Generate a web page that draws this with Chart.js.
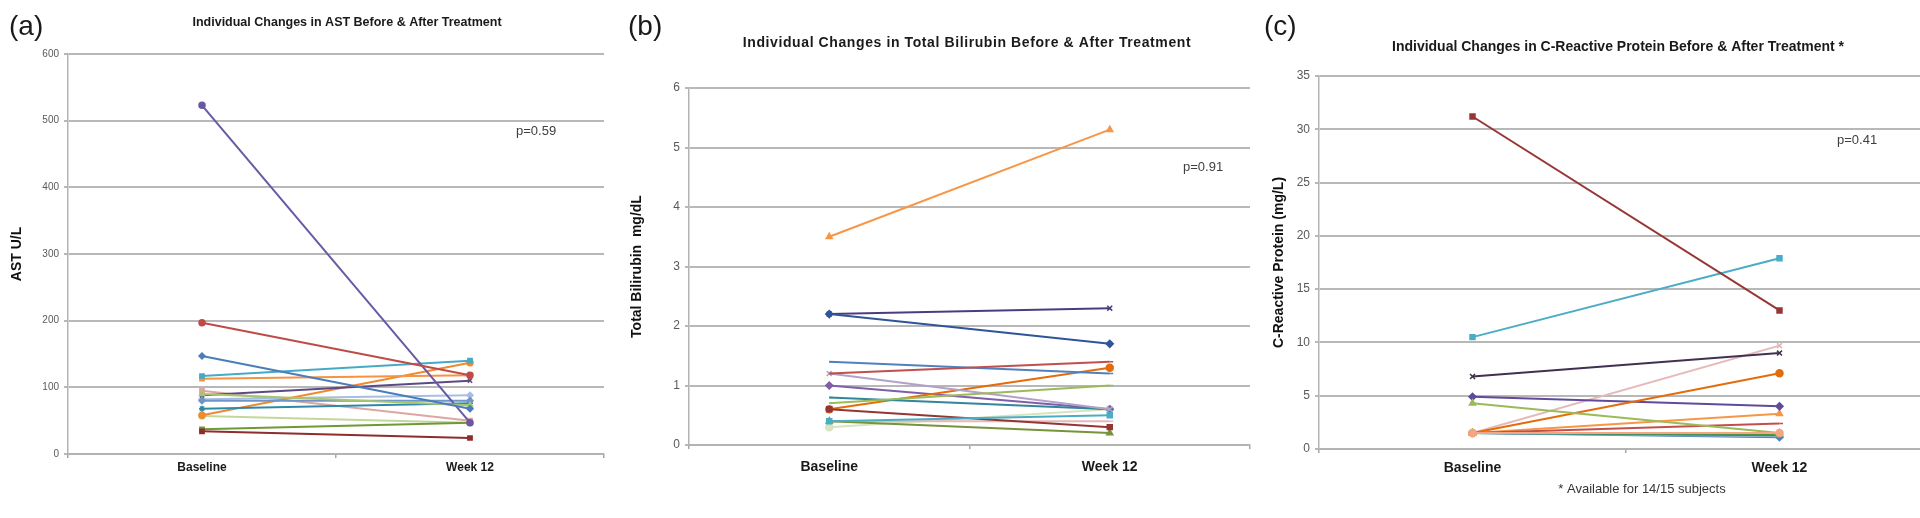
<!DOCTYPE html>
<html>
<head>
<meta charset="utf-8">
<script src="https://cdn.jsdelivr.net/npm/chart.js@4.4.1/dist/chart.umd.min.js"></script>
<style>
  html, body { margin: 0; padding: 0; background: #fff; overflow: hidden; width: 1920px; height: 518px; }
  .panel { position: absolute; top: 0; height: 518px; }
</style>
</head>
<body>
<div class="panel" style="left:0;width:615px"><canvas id="astChart"></canvas></div>
<div class="panel" style="left:615px;width:645px"><canvas id="bilChart"></canvas></div>
<div class="panel" style="left:1260px;width:680px"><canvas id="crpChart"></canvas></div>
<script>
const timepoints = ["Baseline", "Week 12"];

// (a) AST U/L, one value per subject
const astBaseline = [147, 197, 90, 523, 117, 113, 80, 34, 37, 88, 68, 58, 82, 95, 57];
const astWeek12   = [68, 118, 73, 47, 140, 118, 80, 24, 47, 110, 76, 137, 88, 50, 47];
const astTicks = { min: 0, max: 600, step: 100 };

// (b) Total bilirubin mg/dL
const bilBaseline = [2.2, 1.2, 0.7, 2.2, 0.4, 3.5, 1.4, 0.6, 0.4, 1.2, 0.8, 0.6, 1.0, 0.4, 0.3];
const bilWeek12   = [1.7, 1.4, 1.0, 2.3, 0.5, 5.3, 1.2, 0.3, 0.2, 0.6, 0.6, 1.3, 0.6, 0.4, 0.6];
const bilTicks = { min: 0, max: 6, step: 1 };

// (c) C-reactive protein mg/L (14 of 15 subjects)
const crpBaseline = [1.5, 31.2, 4.3, 6.8, 10.5, 1.5, 4.9, 1.5, 1.5, 1.5, 1.5, 1.5, 1.5, 1.5];
const crpWeek12   = [1.5, 13.0, 1.5, 9.0, 17.9, 7.1, 4.0, 2.4, 1.4, 3.3, 1.3, 1.2, 1.1, 9.7];
const crpTicks = { min: 0, max: 35, step: 5 };

const astColors = ["#4A7EBB", "#BE4B48", "#A9C46E", "#6A58A6", "#46AAC5", "#F69240", "#6F94C8", "#8E2D2B",
                   "#6E9A36", "#5C4A85", "#2C8AA8", "#F08A30", "#A6BFE0", "#DDA6A4", "#C4D79B"];
const astMarkers = ["rectRot", "circle", "triangle", "circle", "rect", "rect", "rectRot", "rect",
                    "rect", "crossRot", "star", "circle", "rectRot", "rect", "circle"];

const bilColors = ["#2F5597", "#C0504D", "#9BBB59", "#4D3B82", "#4BACC6", "#F79646", "#4F81BD", "#943634",
                   "#77933C", "#B3A2C7", "#31859C", "#E46C0A", "#7F5FA8", "#E6B9B8", "#D7E4BD"];
const bilMarkers = ["rectRot", "dash", "dash", "crossRot", "rect", "triangle", "dash", "rect",
                    "triangle", "crossRot", "dash", "circle", "rectRot", "dash", "circle"];

const crpColors = ["#F4A582", "#953735", "#9BBB59", "#403151", "#4BACC6", "#E46C0A", "#604A9B",
                   "#C0504D", "#4F9A3A", "#F79646", "#31859C", "#95B3D7", "#4F81BD", "#E6B9B8"];
const crpMarkers = ["circle", "rect", "triangle", "crossRot", "rect", "circle", "rectRot",
                    "dash", "triangle", "triangle", "dash", "dash", "rectRot", "crossRot"];

Chart.defaults.font.family = '"Liberation Sans", Arial, sans-serif';

// free text: panel letters, titles, p values, footnote
const notesPlugin = {
  id: "notes",
  afterDraw(chart, args, opts) {
    const ctx = chart.ctx;
    (opts.items || []).forEach(it => {
      ctx.save();
      ctx.font = it.font;
      ctx.fillStyle = it.color || "#1a1a1a";
      ctx.textAlign = it.align || "left";
      ctx.textBaseline = "middle";
      if (it.spacing) ctx.letterSpacing = it.spacing;
      ctx.fillText(it.text, it.x, it.y);
      ctx.restore();
    });
  }
};

function buildChart(canvasId, cfg) {
  const datasets = cfg.baseline.map((b, i) => ({
    label: "Subject " + (i + 1),
    data: [b, cfg.week12[i]],
    borderColor: cfg.colors[i],
    backgroundColor: cfg.colors[i],
    pointStyle: cfg.markers[i],
    pointRadius: cfg.radius,
    pointBorderWidth: 1.5,
    borderWidth: 2,
    tension: 0,
    fill: false
  }));
  return new Chart(document.getElementById(canvasId), {
    type: "line",
    data: { labels: timepoints, datasets: datasets },
    plugins: [notesPlugin],
    options: {
      responsive: true,
      maintainAspectRatio: false,
      animation: false,
      layout: { padding: { top: cfg.top, right: cfg.right, left: 0, bottom: 0 } },
      plugins: {
        legend: { display: false },
        tooltip: { enabled: false },
        notes: { items: cfg.notes }
      },
      scales: {
        x: {
          offset: true,
          grid: { offset: true, drawOnChartArea: false, drawTicks: true, tickLength: 4, color: "#a6a6a6", lineWidth: 1.5 },
          border: { color: "#b3b3b3", width: 2 },
          ticks: { color: "#1a1a1a", font: { size: cfg.catSize, weight: "bold" }, padding: cfg.xPad, maxRotation: 0 },
          afterFit: s => { s.height = cfg.xHeight; }
        },
        y: {
          min: cfg.ticks.min,
          max: cfg.ticks.max,
          ticks: { stepSize: cfg.ticks.step, color: "#595959", font: { size: cfg.tickSize }, padding: 5 },
          grid: { color: "#b8b8b8", lineWidth: 2, tickLength: 4 },
          border: { color: "#b3b3b3", width: 1.5 },
          title: {
            display: true, text: cfg.yTitle, color: "#111",
            font: { size: 14, weight: "bold" }, padding: { top: cfg.yTitlePad, bottom: 0 }
          },
          afterFit: s => { s.width = cfg.yWidth; }
        }
      }
    }
  });
}

const letterFont = '28px "Liberation Sans", Arial, sans-serif';
const pFont = '13px "Liberation Sans", Arial, sans-serif';

buildChart("astChart", {
  baseline: astBaseline, week12: astWeek12, colors: astColors, markers: astMarkers, ticks: astTicks,
  yTitle: "AST U/L", yTitlePad: 9, yWidth: 68, top: 54, right: 11, xHeight: 64, xPad: 2,
  tickSize: 10, catSize: 12, radius: 3,
  notes: [
    { text: "(a)", x: 9, y: 27, font: letterFont },
    { text: "Individual Changes in AST Before & After Treatment", x: 347, y: 23,
      font: 'bold 12.5px "Liberation Sans", Arial, sans-serif', align: "center" },
    { text: "p=0.59", x: 516, y: 131, font: pFont, color: "#404040" }
  ]
});

buildChart("bilChart", {
  baseline: bilBaseline, week12: bilWeek12, colors: bilColors, markers: bilMarkers, ticks: bilTicks,
  yTitle: "Total Bilirubin  mg/dL", yTitlePad: 14, yWidth: 74, top: 88, right: 10, xHeight: 73, xPad: 10,
  tickSize: 12, catSize: 14, radius: 3.5,
  notes: [
    { text: "(b)", x: 13, y: 27, font: letterFont },
    { text: "Individual Changes in Total Bilirubin Before & After Treatment", x: 352, y: 43,
      font: 'bold 14px "Liberation Sans", Arial, sans-serif', align: "center", spacing: "0.6px" },
    { text: "p=0.91", x: 568, y: 167, font: pFont, color: "#404040" }
  ]
});

buildChart("crpChart", {
  baseline: crpBaseline, week12: crpWeek12, colors: crpColors, markers: crpMarkers, ticks: crpTicks,
  yTitle: "C-Reactive Protein (mg/L)", yTitlePad: 11, yWidth: 59, top: 76, right: 7, xHeight: 69, xPad: 7,
  tickSize: 12, catSize: 14, radius: 3.5,
  notes: [
    { text: "(c)", x: 4, y: 27, font: letterFont },
    { text: "Individual Changes in C-Reactive Protein Before & After Treatment *", x: 358, y: 47,
      font: 'bold 14px "Liberation Sans", Arial, sans-serif', align: "center" },
    { text: "p=0.41", x: 577, y: 140, font: pFont, color: "#404040" },
    { text: "* Available for 14/15 subjects", x: 382, y: 489, font: pFont, align: "center", color: "#333" }
  ]
});
</script>
</body>
</html>
